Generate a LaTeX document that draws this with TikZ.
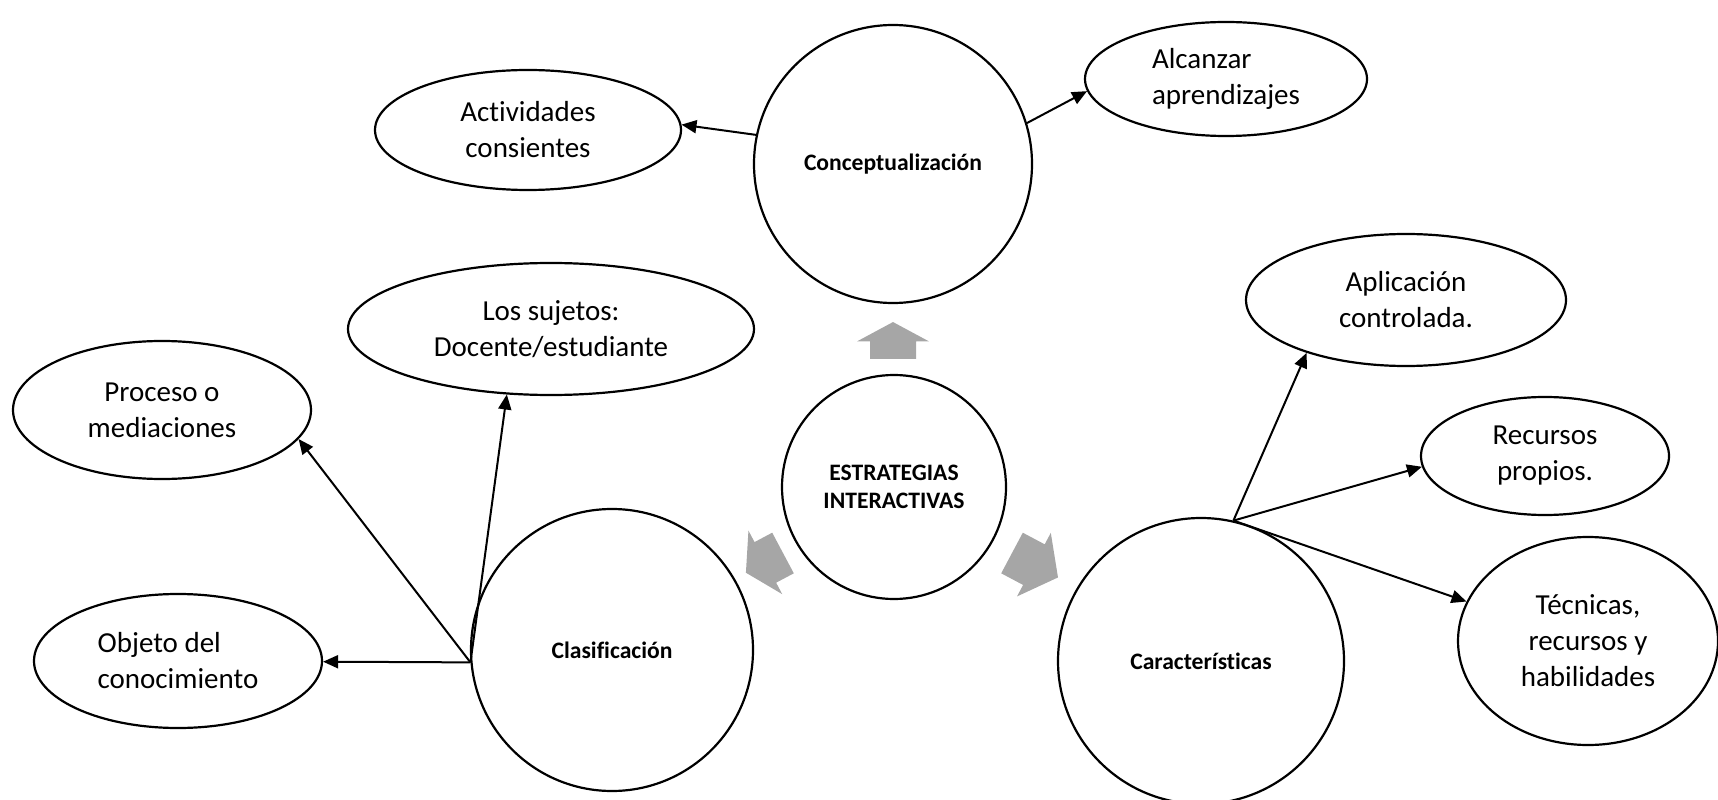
\documentclass[tikz,border=0pt]{standalone}
\usepackage{fontspec}
\setmainfont{Carlito}[Ligatures=CommonOff]
\usetikzlibrary{shapes.geometric,arrows.meta}
\definecolor{arrowgray}{RGB}{166,166,166}
\tikzset{
  idea/.style={draw,ellipse,line width=1.1pt,inner sep=0pt,align=center,font=\fontsize{14.5}{18}\selectfont},
  hub/.style={draw,circle,line width=1.1pt,inner sep=0pt,align=center,font=\fontsize{11.8}{14}\selectfont\bfseries},
  link/.style={line width=1pt,-{Triangle[length=7.5pt,width=6.5pt]}},
  blockarrow/.pic={\fill[arrowgray] (0,-23) -- (20,-23) -- (20,-36) -- (42,0) -- (20,36) -- (20,23) -- (0,23) -- cycle;}
}

\begin{document}
\begin{tikzpicture}[x=0.5pt,y=0.5pt]
\useasboundingbox (0,0) rectangle (1718,799);
% circles
\node[hub,minimum size=139pt] (concept) at (893,635) {Conceptualización};
\node[hub,minimum size=112pt] (estr) at (894,312) {ESTRATEGIAS\\INTERACTIVAS};
\node[hub,minimum size=141pt] (clasif) at (612,149) {Clasificación};
\node[hub,minimum size=143pt] (caract) at (1201,138) {Características};
% ellipses
\node[idea,minimum width=153pt,minimum height=60pt] (activ) at (528,669) {Actividades\\consientes};
\node[idea,minimum width=141pt,minimum height=57pt,align=left] (alcanz) at (1226,720) {Alcanzar\\aprendizajes};
\node[idea,minimum width=203pt,minimum height=66pt] (sujetos) at (551,470) {Los sujetos:\\Docente/estudiante};
\node[idea,minimum width=149pt,minimum height=69pt] (proceso) at (162,389) {Proceso o\\mediaciones};
\node[idea,minimum width=144pt,minimum height=67pt,align=left] (objeto) at (178,138) {Objeto del\\conocimiento};
\node[idea,minimum width=160pt,minimum height=66pt] (aplic) at (1406,499) {Aplicación\\controlada.};
\node[idea,minimum width=124pt,minimum height=59pt] (recursos) at (1545,343) {Recursos\\propios.};
\node[idea,minimum width=130pt,minimum height=104pt] (tecnicas) at (1588,158) {Técnicas,\\recursos y\\habilidades};
% gray block arrows
\pic[rotate=90,xscale=0.88] at (893,440) {blockarrow};
\pic[rotate=208,xscale=1.0] at (783,246) {blockarrow};
\pic[rotate=-28,xscale=1.24] at (1012,246) {blockarrow};
% connectors
\coordinate (clorig) at (clasif.185);
\coordinate (carorig) at (caract.77);
\draw[link] (concept.168) -- (activ.2);
\draw[link] (concept.17) -- (alcanz.185);
\draw[link] (clorig) -- (objeto);
\draw[link] (clorig) -- (proceso.-12);
\draw[link] (clorig) -- (sujetos.-124);
\draw[link] (carorig) -- (aplic.-152);
\draw[link] (carorig) -- (recursos.185);
\draw[link] (carorig) -- (tecnicas.162);
\end{tikzpicture}
\end{document}
